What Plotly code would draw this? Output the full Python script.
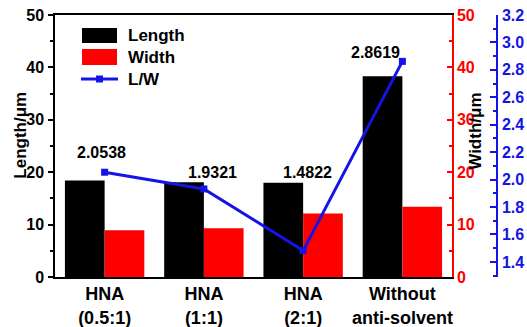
import plotly.graph_objects as go

# Crystal dimensions per preparation condition
categories = ["HNA<br>(0.5:1)", "HNA<br>(1:1)", "HNA<br>(2:1)", "Without<br>anti-solvent"]
length_um = [18.4, 18.1, 18.0, 38.3]
width_um = [8.9, 9.3, 12.1, 13.4]
ratio_lw = [2.0538, 1.9321, 1.4822, 2.8619]

FONT = "Liberation Sans, Arial, sans-serif"
BLUE = "#1414E6"
RED = "#FF0000"

fig = go.Figure()

fig.add_trace(go.Bar(
    x=categories, y=length_um, name="Length",
    marker=dict(color="black", line=dict(width=0)),
    width=0.4, offset=-0.4, yaxis="y", showlegend=False,
))
fig.add_trace(go.Bar(
    x=categories, y=width_um, name="Width",
    marker=dict(color=RED, line=dict(width=0)),
    width=0.4, offset=0.0, yaxis="y2", showlegend=False,
))
fig.add_trace(go.Scatter(
    x=categories, y=ratio_lw, name="L/W", mode="lines+markers",
    line=dict(color=BLUE, width=3),
    marker=dict(symbol="square", size=7, color=BLUE),
    yaxis="y3", showlegend=False,
))

# Ratio value labels (pixel offsets relative to each point)
label_shift = [(-3, 20), (9, 16), (4, 78), (-27, 9)]
annotations = []
for cat, val, (dx, dy) in zip(categories, ratio_lw, label_shift):
    annotations.append(dict(
        x=cat, y=val, xref="x", yref="y3", text=f"{val:.4f}",
        showarrow=False, xshift=dx, yshift=dy,
        xanchor="center", yanchor="middle",
        font=dict(family=FONT, size=16, color="black", weight="bold"),
    ))

# Axis titles
annotations.append(dict(
    x=-0.078, y=0.54, xref="paper", yref="paper", text="Length/μm",
    textangle=-90, showarrow=False, xanchor="center", yanchor="middle",
    font=dict(family=FONT, size=17, color="black", weight="bold"),
))
annotations.append(dict(
    x=0.94, y=0.555, xref="paper", yref="paper", text="Width/μm",
    textangle=-90, showarrow=False, xanchor="center", yanchor="middle",
    font=dict(family=FONT, size=17, color="black", weight="bold"),
))

# Legend drawn inside the plot area
W, H = 527, 327
ML, MR, MT, MB = 55, 25, 15, 50
PW, PH = W - ML - MR, H - MT - MB


def px(xp):
    return (xp - ML) / PW


def py(yp):
    return (H - MB - yp) / PH


shapes = [
    dict(type="rect", xref="paper", yref="paper",
         x0=px(82), x1=px(117), y0=py(43), y1=py(28),
         fillcolor="black", line=dict(width=0)),
    dict(type="rect", xref="paper", yref="paper",
         x0=px(82), x1=px(117), y0=py(65), y1=py(49),
         fillcolor=RED, line=dict(width=0)),
    dict(type="line", xref="paper", yref="paper",
         x0=px(81), x1=px(118), y0=py(79), y1=py(79),
         line=dict(color=BLUE, width=3)),
    dict(type="rect", xref="paper", yref="paper",
         x0=px(96), x1=px(103), y0=py(82.5), y1=py(75.5),
         fillcolor=BLUE, line=dict(width=0)),
]
for txt, yc in [("Length", 36), ("Width", 57), ("L/W", 79)]:
    annotations.append(dict(
        x=px(126), y=py(yc), xref="paper", yref="paper", text=txt,
        xanchor="left", yanchor="middle", showarrow=False,
        font=dict(family=FONT, size=17, color="black", weight="bold"),
    ))

tickfont = dict(family=FONT, size=16, weight="bold")
x_end = px(452)

fig.update_layout(
    width=W, height=H,
    margin=dict(l=ML, r=MR, t=MT, b=MB, autoexpand=False),
    plot_bgcolor="white", paper_bgcolor="white",
    barmode="overlay",
    xaxis=dict(
        domain=[0, x_end], showline=True, linecolor="black", linewidth=1.5,
        mirror=True, ticks="", showgrid=False, automargin=False,
        tickfont=dict(family=FONT, size=18, color="black", weight="bold"),
        range=[-0.5, 3.5], ticklabelstandoff=0,
    ),
    yaxis=dict(
        range=[0, 50], dtick=10, showgrid=False, zeroline=False,
        showline=True, linecolor="black", linewidth=1.5, automargin=False,
        ticks="outside", ticklen=5, tickwidth=1.5, tickcolor="black",
        minor=dict(dtick=5, ticks="outside", ticklen=3, tickcolor="black"),
        tickfont=dict(color="black", **tickfont), ticklabelstandoff=1,
    ),
    yaxis2=dict(
        range=[0, 50], dtick=10, overlaying="y", side="right", anchor="x",
        showgrid=False, zeroline=False, automargin=False,
        showline=True, linecolor=RED, linewidth=1.5,
        ticks="inside", ticklen=5, tickwidth=1.5, tickcolor=RED,
        minor=dict(dtick=5, ticks="inside", ticklen=3, tickcolor=RED),
        tickfont=dict(color=RED, **tickfont), ticklabelstandoff=0,
    ),
    yaxis3=dict(
        range=[1.29, 3.2], dtick=0.2, tick0=1.4, overlaying="y", side="right",
        anchor="free", position=px(497), automargin=False,
        showgrid=False, zeroline=False,
        showline=True, linecolor=BLUE, linewidth=1.5,
        ticks="inside", ticklen=6, tickwidth=1.5, tickcolor=BLUE,
        minor=dict(dtick=0.1, ticks="inside", ticklen=3, tickcolor=BLUE),
        tickformat=".1f",
        tickfont=dict(color=BLUE, **tickfont), ticklabelstandoff=1,
    ),
    annotations=annotations,
    shapes=shapes,
)

fig.write_html("out.html")
